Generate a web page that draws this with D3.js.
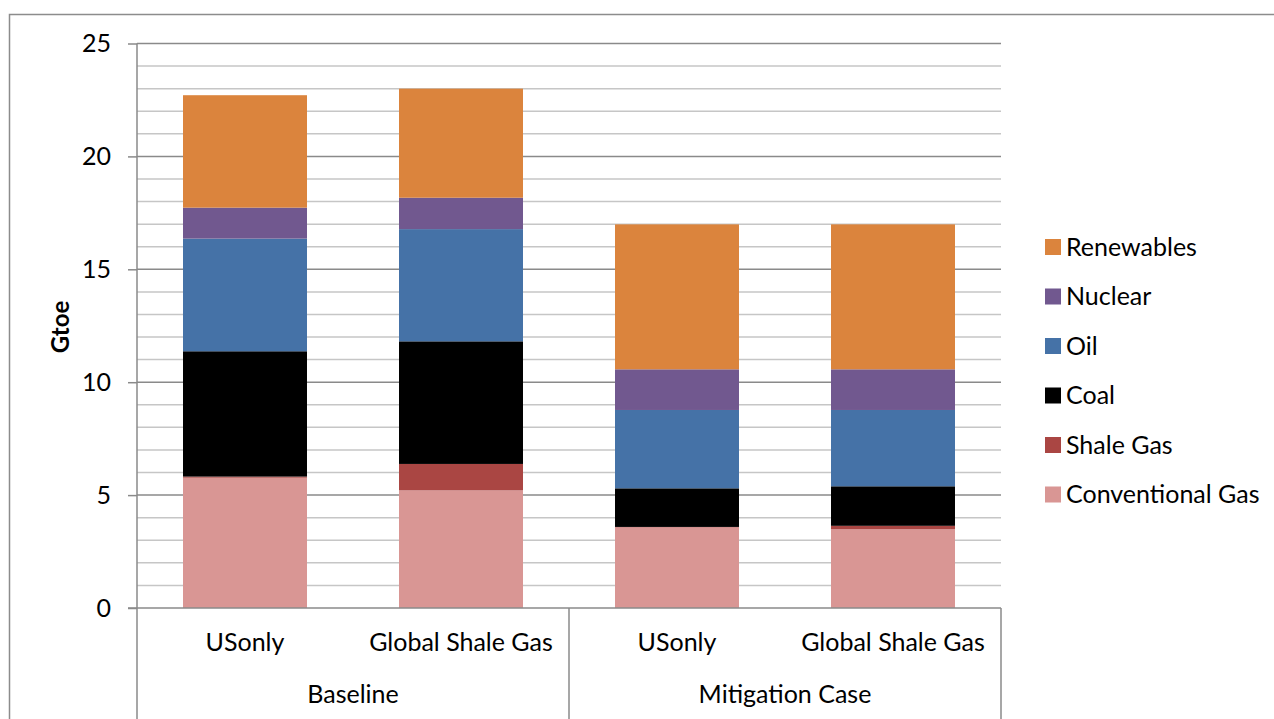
<!DOCTYPE html>
<html>
<head>
<meta charset="utf-8">
<script src="https://cdn.jsdelivr.net/npm/d3@7"></script>
<style>
  html, body { margin: 0; padding: 0; background: #fff; }
  svg { display: block; }
  text { font-family: Lato, "Open Sans", sans-serif; fill: #000; }
</style>
</head>
<body>
<svg id="chart" width="1274" height="719"></svg>
<script>
// Primary energy demand (Gtoe) by scenario and shale-gas availability
const groups = ["Baseline", "Mitigation Case"];
const cases = ["USonly", "Global Shale Gas", "USonly", "Global Shale Gas"];
const caseGroup = [0, 0, 1, 1];

const seriesNames = ["Conventional Gas", "Shale Gas", "Coal", "Oil", "Nuclear", "Renewables"];
const conventionalGas = [5.77, 5.21, 3.57, 3.49];
const shaleGas        = [0.05, 1.17, 0.02, 0.15];
const coal            = [5.55, 5.43, 1.71, 1.75];
const oil             = [4.99, 4.97, 3.47, 3.38];
const nuclear         = [1.37, 1.39, 1.80, 1.80];
const renewables      = [4.98, 4.83, 6.42, 6.42];

const yTicks = [0, 5, 10, 15, 20, 25];
const yMinor = d3.range(0, 26, 1);

const colors = {
  "Conventional Gas": "#d99694",
  "Shale Gas": "#aa4643",
  "Coal": "#000000",
  "Oil": "#4572a7",
  "Nuclear": "#71588f",
  "Renewables": "#db843d"
};

const FONT = 25;

const seriesValues = [conventionalGas, shaleGas, coal, oil, nuclear, renewables];
const rows = cases.map((c, i) => {
  const r = { idx: i };
  seriesNames.forEach((s, k) => { r[s] = seriesValues[k][i]; });
  return r;
});

const svg = d3.select("#chart");

// chart frame
svg.append("rect")
  .attr("x", 9.5).attr("y", 14.5)
  .attr("width", 1300).attr("height", 720)
  .attr("fill", "none").attr("stroke", "#8c8c8c").attr("stroke-width", 1.5);

const plot = { left: 137, right: 1001, top: 43.5, bottom: 608 };

const x = d3.scaleBand()
  .domain(d3.range(cases.length))
  .range([plot.left, plot.right])
  .paddingInner(0.426)
  .paddingOuter(0.213);

const y = d3.scaleLinear().domain([0, 25]).range([plot.bottom, plot.top]);

// gridlines: minor every unit, major every 5
svg.append("g").selectAll("line.minor")
  .data(yMinor.filter(v => v % 5 !== 0))
  .join("line")
  .attr("x1", plot.left).attr("x2", plot.right)
  .attr("y1", d => y(d)).attr("y2", d => y(d))
  .attr("stroke", "#c6c6c6").attr("stroke-width", 1.5);

svg.append("g").selectAll("line.major")
  .data(yTicks.filter(v => v > 0))
  .join("line")
  .attr("x1", plot.left).attr("x2", plot.right)
  .attr("y1", d => y(d)).attr("y2", d => y(d))
  .attr("stroke", "#8a8a8a").attr("stroke-width", 1.5);

// stacked bars
const stack = d3.stack().keys(seriesNames);
const layers = stack(rows);

svg.append("g").selectAll("g")
  .data(layers)
  .join("g")
  .attr("fill", d => colors[d.key])
  .selectAll("rect")
  .data(d => d)
  .join("rect")
  .attr("x", d => x(d.data.idx))
  .attr("width", x.bandwidth())
  .attr("y", d => y(d[1]))
  .attr("height", d => y(d[0]) - y(d[1]));

// y axis
const yAxis = d3.axisLeft(y).tickValues(yTicks).tickSize(9).tickPadding(17);
const gy = svg.append("g").attr("transform", `translate(${plot.left},0)`).call(yAxis);
gy.select(".domain").remove();
gy.selectAll(".tick line").attr("stroke", "#8a8a8a").attr("stroke-width", 1.5);
gy.selectAll(".tick text").attr("font-size", FONT).attr("font-family", "Lato, sans-serif").attr("fill", "#000");

// axis lines
svg.append("line")
  .attr("x1", plot.left).attr("x2", plot.left)
  .attr("y1", plot.top).attr("y2", 719)
  .attr("stroke", "#8a8a8a").attr("stroke-width", 1.5);
svg.append("line")
  .attr("x1", plot.left - 9).attr("x2", plot.right)
  .attr("y1", plot.bottom).attr("y2", plot.bottom)
  .attr("stroke", "#8a8a8a").attr("stroke-width", 1.5);

// group separators
const groupEdges = [x.step() * 2, x.step() * 4].map(v => plot.left + v);
svg.append("g").selectAll("line")
  .data(groupEdges)
  .join("line")
  .attr("x1", d => d).attr("x2", d => d)
  .attr("y1", plot.bottom).attr("y2", 719)
  .attr("stroke", "#8a8a8a").attr("stroke-width", 1.5);

// category labels
svg.append("g").selectAll("text")
  .data(cases)
  .join("text")
  .attr("x", (d, i) => x(i) + x.bandwidth() / 2)
  .attr("y", 651)
  .attr("text-anchor", "middle")
  .attr("font-size", FONT)
  .text(d => d);

// group labels
svg.append("g").selectAll("text")
  .data(groups)
  .join("text")
  .attr("x", (d, gi) => {
    const idx = caseGroup.map((g, i) => g === gi ? i : -1).filter(i => i >= 0);
    return (x(idx[0]) + x(idx[idx.length - 1]) + x.bandwidth()) / 2;
  })
  .attr("y", 703)
  .attr("text-anchor", "middle")
  .attr("font-size", FONT)
  .text(d => d);

// y axis title
svg.append("text")
  .attr("transform", "translate(69,327) rotate(-90)")
  .attr("text-anchor", "middle")
  .attr("font-size", 24)
  .attr("font-weight", "bold")
  .text("Gtoe");

// legend
const legendOrder = seriesNames.slice().reverse();
const lg = svg.append("g").selectAll("g")
  .data(legendOrder)
  .join("g")
  .attr("transform", (d, i) => `translate(1045,${247 + i * 49.5})`);
lg.append("rect")
  .attr("x", 0).attr("y", -8)
  .attr("width", 16).attr("height", 16)
  .attr("fill", d => colors[d]);
lg.append("text")
  .attr("x", 21).attr("y", 0)
  .attr("dy", "0.35em")
  .attr("font-size", FONT)
  .text(d => d);
</script>
</body>
</html>
